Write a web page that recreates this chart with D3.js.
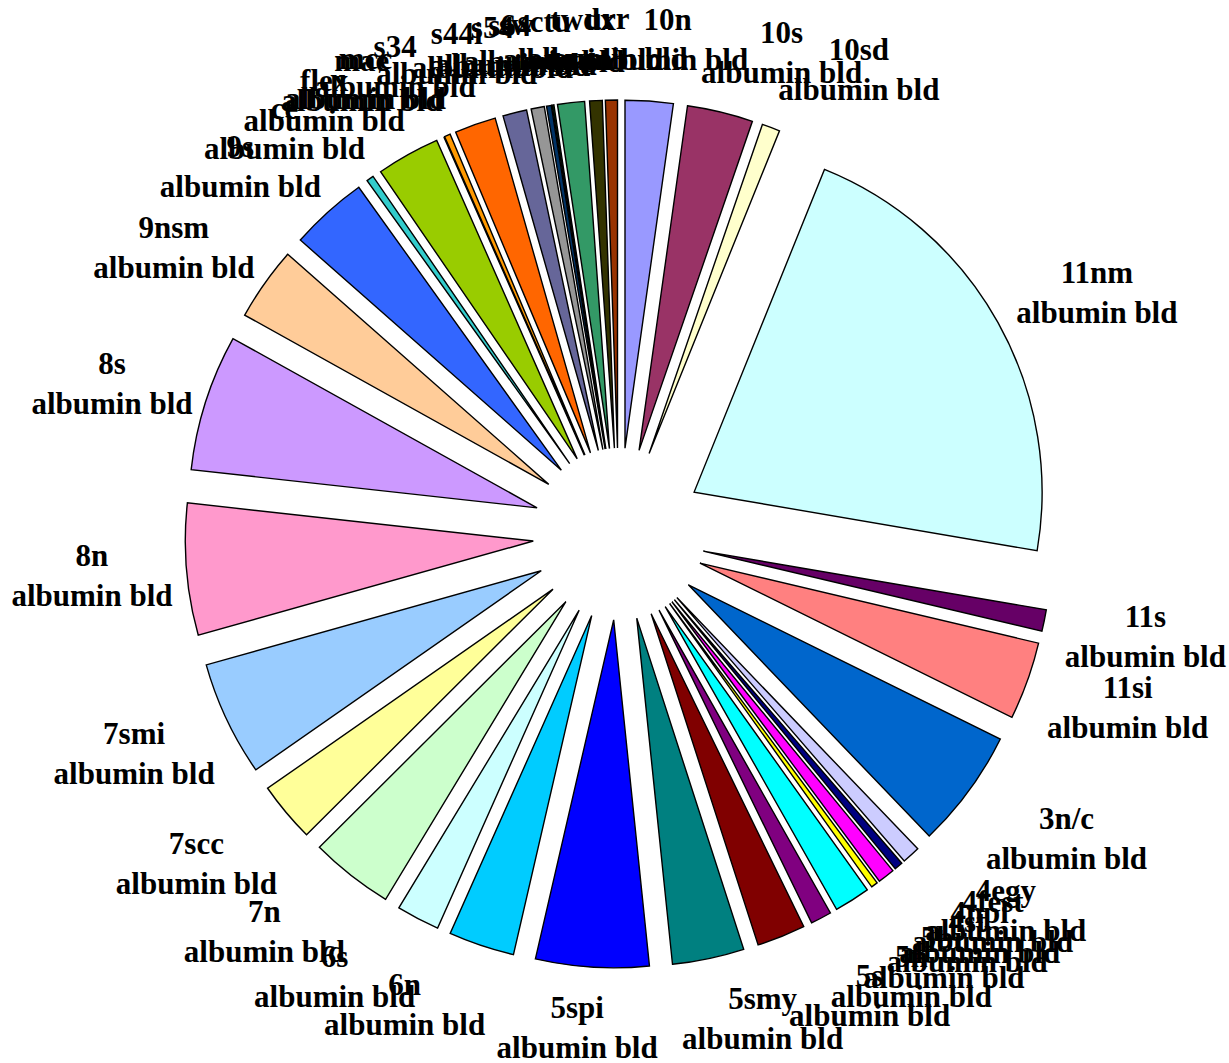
<!DOCTYPE html>
<html>
<head>
<meta charset="utf-8">
<script src="https://cdn.jsdelivr.net/npm/d3@7/dist/d3.min.js"></script>
<style>
  html, body { margin: 0; padding: 0; background: #ffffff; }
  svg { display: block; }
  .lbl { font-family: "Liberation Serif", "Times New Roman", serif; font-weight: bold; font-size: 31px; fill: #000; }
</style>
</head>
<body>
<svg id="chart" width="1229" height="1063"></svg>
<script>
// Slice categories, in drawing order (clockwise from 12 o'clock)
const categories = [
  "10n", "10s", "10sd", "11nm", "11s", "11si", "3n/c",
  "4egy", "4fest", "4npl", "4st", "5br", "5n", "5s", "5smy", "5spi",
  "6n", "6s", "7n", "7scc", "7smi", "8n", "8s", "9nsm", "9s",
  "ce", "flex", "mae", "mcc", "s34", "s44i", "s54", "s64", "sw",
  "sctu", "twdx", "urr"
];

// Series values per category
const values = [
  8.0, 11.0, 3.0, 77.7, 3.6, 13.0, 19.9,
  3.0, 1.4, 2.8, 1.1, 6.0, 3.5, 8.1, 12.0, 18.9,
  11.0, 7.2, 13.9, 10.0, 19.2, 22.0, 22.8, 12.3, 13.0,
  1.2, 10.6, 0.0, 1.0, 6.9, 4.0, 2.2, 0.8, 0.3,
  4.5, 2.1, 2.0
];

// Series name shown under every category label
const seriesName = "albumin bld";

// Slice fills
const colors = [
  "#9999FF", "#993366", "#FFFFCC", "#CCFFFF", "#660066", "#FF8080", "#0066CC",
  "#CCCCFF", "#000080", "#FF00FF", "#FFFF00", "#00FFFF", "#800080", "#800000", "#008080", "#0000FF",
  "#00CCFF", "#CCFFFF", "#CCFFCC", "#FFFF99", "#99CCFF", "#FF99CC", "#CC99FF", "#FFCC99", "#3366FF",
  "#33CCCC", "#99CC00", "#FFCC00", "#FF9900", "#FF6600", "#666699", "#969696", "#003366", "#003300",
  "#339966", "#333300", "#993300"
];

const svg = d3.select("#chart");
const cx = 619, cy = 534;       // pie centre
const radius = 348;             // slice radius
const explode = 86;             // radial offset of every slice
const labelRadius = 455;        // anchor distance for labels
const lineGap = 40;             // label line spacing

const data = categories.map((c, i) => ({ name: c, value: values[i], color: colors[i] }));

const pie = d3.pie().sort(null).value(d => d.value);
const arcs = pie(data);
const arcGen = d3.arc().innerRadius(0).outerRadius(radius);

const g = svg.append("g").attr("transform", `translate(${cx},${cy})`);

// Exploded slices
g.selectAll("path.slice")
  .data(arcs)
  .join("path")
  .attr("class", "slice")
  .attr("d", arcGen)
  .attr("fill", d => d.data.color)
  .attr("stroke", "#000")
  .attr("stroke-width", 1.4)
  .attr("stroke-linejoin", "miter")
  .attr("transform", d => {
    const m = (d.startAngle + d.endAngle) / 2;
    return `translate(${explode * Math.sin(m)},${-explode * Math.cos(m)})`;
  });

// Two-line data labels placed outside each slice
const clamp = (v, lo, hi) => Math.max(lo, Math.min(hi, v));
const labels = g.selectAll("g.label")
  .data(arcs)
  .join("g")
  .attr("class", "label");

labels.each(function(d) {
  const sel = d3.select(this);
  const t1 = sel.append("text").attr("class", "lbl").attr("text-anchor", "middle").text(d.data.name);
  const t2 = sel.append("text").attr("class", "lbl").attr("text-anchor", "middle").text(seriesName);
  const w = Math.max(t1.node().getComputedTextLength(), t2.node().getComputedTextLength());
  const h = lineGap * 2;
  const m = (d.startAngle + d.endAngle) / 2;
  const s = Math.sin(m), c = Math.cos(m);
  const ax = labelRadius * s;
  const ay = -labelRadius * c;
  const halfW = w / 2 - (s < 0 ? 7 : 0);
  const bx = ax + halfW * clamp(3 * s, -1, 1);
  const by = ay + (h / 2) * (c > 0 ? -c : clamp(-1.5 * c, 0, 1));
  t1.attr("x", bx).attr("y", by - 10);
  t2.attr("x", bx).attr("y", by + 30);
});
</script>
</body>
</html>
